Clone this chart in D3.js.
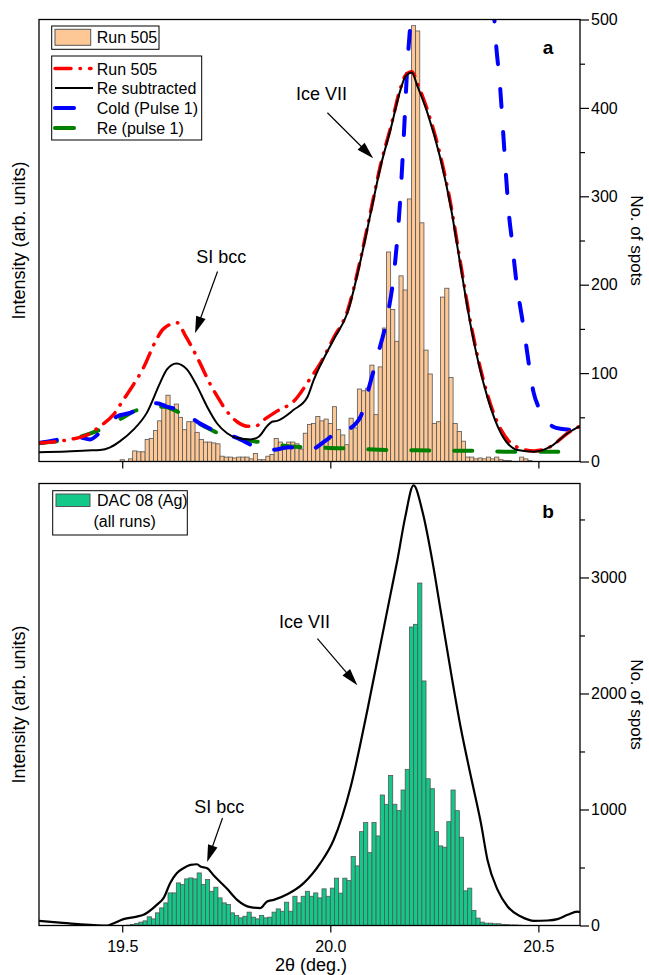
<!DOCTYPE html>
<html><head><meta charset="utf-8">
<script src="https://cdn.jsdelivr.net/npm/d3@7"></script>
<style>
body{margin:0;background:#fff}
text{font-family:"Liberation Sans",Arial,Helvetica,sans-serif;fill:#000}
</style>
</head><body>
<svg id="c" width="649" height="975"></svg>
<script>
// ---------- DATA ----------
const xTicks = [19.5, 20.0, 20.5];
const xTickLabels = ["19.5", "20.0", "20.5"];
const spotTicksA = [0, 100, 200, 300, 400, 500];
const spotMinorA = [50, 150, 250, 350, 450];
const spotTicksB = [0, 1000, 2000, 3000];
const spotMinorB = [500, 1500, 2500, 3500];

// Panel a histogram: Run 505 (bins of 0.01 deg, first bin centred at 19.50)
const runBinStart = 19.495;
const binWidth = 0.01;
const runCounts = [2,0,3,12,11,11,25,26,35,46,65,75,58,65,50,36,45,45,33,25,
  22,22,21,20,6,5,5,4,5,5,5,3,9,2,2,6,8,26,22,16,
  22,22,20,14,32,42,43,51,46,48,43,62,36,30,19,49,38,82,80,83,
  109,53,107,151,237,172,136,210,194,297,493,487,270,126,99,43,45,186,196,95,
  43,34,23,5,5,3,4,3,5,3,5,2,1,1,0,0,5,3,1];

// Panel b histogram: DAC 08 (Ag), all runs (bins of 0.01 deg, first bin from 19.50)
const dacBinStart = 19.50;
const dacCounts = [0,3,9,17,29,40,75,57,109,152,195,281,281,367,353,402,410,402,453,353,
  396,295,330,238,195,181,109,86,66,80,115,72,57,86,66,72,115,143,123,201,
  123,252,195,252,295,252,281,238,316,252,322,408,279,408,387,594,514,809,887,628,
  887,772,1125,1045,1294,1045,990,1168,1346,2573,2596,2952,2108,1265,1179,809,686,675,895,1168,
  990,761,299,322,129,64,29,20,20,15,15,10,8,5,5,3];

// Panel a curves: [2theta, intensity (arb. units)]
const run505Curve = [[19.300,21],[19.375,25],[19.415,30],[19.447,40],[19.479,53],[19.503,70],[19.527,87],
  [19.551,106],[19.579,135],[19.599,150],[19.632,157],[19.651,143],[19.683,115],[19.712,87],[19.728,74],
  [19.748,59],[19.776,45],[19.800,40],[19.820,40],[19.840,47],[19.872,57],[19.912,68],[19.952,94],
  [19.976,111],[20.008,140],[20.041,170],[20.073,230],[20.097,283],[20.121,336],[20.145,378],[20.169,423],
  [20.181,437],[20.196,441],[20.209,428],[20.233,398],[20.265,345],[20.289,292],[20.313,224],[20.338,155],
  [20.378,75],[20.410,36],[20.450,16],[20.490,12],[20.530,17],[20.570,32],[20.600,40]];
const reSubtracted = [[19.300,10.6],[19.367,11.3],[19.415,12.5],[19.447,13],[19.471,16],[19.495,23],[19.527,36],
  [19.559,55],[19.591,89],[19.607,104],[19.630,111],[19.656,104],[19.680,85],[19.704,62],[19.728,43],
  [19.752,32],[19.776,26.5],[19.808,25],[19.828,28],[19.848,40],[19.860,45],[19.872,46],[19.912,58.5],
  [19.944,72],[19.960,92],[20.008,138],[20.041,168],[20.073,228],[20.097,281],[20.121,334],[20.145,376],
  [20.169,421],[20.181,436],[20.196,440],[20.209,425],[20.233,395],[20.265,342],[20.289,289],[20.313,221],
  [20.338,152],[20.378,72],[20.410,32],[20.450,13],[20.490,11],[20.530,17],[20.570,32],[20.600,40]];
const coldPulse1 = [[19.300,21],[19.326,23],[19.343,24.5],[19.391,28],[19.423,25],[19.447,33],[19.471,43],
  [19.487,51],[19.519,55],[19.551,62],[19.583,66],[19.607,62],[19.647,57],[19.680,45],[19.712,37],
  [19.744,30],[19.768,28],[19.824,16],[19.856,13],[19.904,16],[19.944,12],[19.993,25],[20.008,30],
  [20.025,28],[20.033,32],[20.073,51],[20.089,77],[20.113,119],[20.137,164],[20.153,213],[20.169,304],
  [20.177,372],[20.185,447],[20.193,500],[20.210,640],[20.250,800],[20.300,850],[20.350,760],[20.380,620],
  [20.398,474],[20.408,424],[20.415,375],[20.422,325],[20.430,276],[20.436,252],[20.442,225],[20.448,200],
  [20.456,176],[20.464,153],[20.472,127],[20.479,104],[20.488,79],[20.502,60],[20.518,47],[20.537,39],
  [20.554,37],[20.573,36],[20.600,31]];
const rePulse1 = [[19.300,21],[19.343,23],[19.399,28],[19.447,36],[19.499,49],[19.535,58],[19.599,62],
  [19.639,55],[19.696,40],[19.736,31],[19.784,25],[19.840,21.5],[19.904,17],[19.944,16],[20.032,15],
  [20.138,13],[20.244,12.5],[20.352,12],[20.455,11],[20.564,11],[20.600,11]];

// Panel b curve: [2theta, intensity (arb. units)]
const dacCurve = [[19.300,40],[19.350,25],[19.400,10],[19.440,2],[19.465,0],[19.480,20],[19.503,55],
  [19.535,77],[19.551,92],[19.583,178],[19.600,240],[19.615,365],[19.631,451],[19.647,494],[19.664,522],
  [19.680,528],[19.688,508],[19.704,494],[19.720,430],[19.752,316],[19.776,221],[19.808,158],[19.832,150],
  [19.848,207],[19.864,221],[19.899,273],[19.936,365],[19.976,537],[20.008,737],[20.049,1196],[20.089,1856],
  [20.121,2430],[20.145,2861],[20.161,3147],[20.180,3520],[20.200,3793],[20.222,3560],[20.245,3147],
  [20.265,2717],[20.289,2201],[20.313,1713],[20.338,1282],[20.362,881],[20.378,560],[20.402,307],
  [20.426,164],[20.458,77],[20.490,40],[20.522,43],[20.546,55],[20.570,92],[20.594,120],[20.600,115]];

// ---------- DRAWING ----------
const svg = d3.select("#c");
const L = 39, R = 580;
const x = d3.scaleLinear().domain([19.3, 20.6]).range([L, R]);

const panels = [
  {top: 19.5, bottom: 461.5, max: 500, ticks: spotTicksA, minor: spotMinorA, label: "a", showX: false},
  {top: 483.5, bottom: 925.5, max: 3810, ticks: spotTicksB, minor: spotMinorB, label: "b", showX: true}
];
panels.forEach(p => {
  p.y = d3.scaleLinear().domain([0, p.max]).range([p.bottom, p.top]);     // No. of spots
  p.yI = d3.scaleLinear().domain([0, p.max]).range([p.bottom, p.top]);    // Intensity (arb. units)
});

const defs = svg.append("defs");
panels.forEach((p, i) => {
  defs.append("clipPath").attr("id", "clip" + i).append("rect")
    .attr("x", L).attr("y", p.top).attr("width", R - L).attr("height", p.bottom - p.top);
});

function drawBars(g, p, start, counts, fill) {
  g.selectAll(null).data(counts).enter().append("rect")
    .attr("x", (d, i) => x(start + i * binWidth))
    .attr("width", (d, i) => x(start + (i + 1) * binWidth) - x(start + i * binWidth))
    .attr("y", d => p.y(d))
    .attr("height", d => p.bottom - p.y(d))
    .attr("fill", fill).attr("stroke", "#555").attr("stroke-width", 0.8);
}
function drawCurve(g, p, data, color, width, dash) {
  const line = d3.line().x(d => x(d[0])).y(d => p.yI(d[1])).curve(d3.curveMonotoneX);
  const path = g.append("path").datum(data).attr("d", line)
    .attr("fill", "none").attr("stroke", color).attr("stroke-width", width)
    .attr("stroke-linejoin", "round");
  if (dash) path.attr("stroke-dasharray", dash).attr("stroke-linecap", "round");
}
function arrow(p, from, to, text, tpos) {
  const x1 = x(from[0]), y1 = p.yI(from[1]), x2 = x(to[0]), y2 = p.yI(to[1]);
  const dx = x2 - x1, dy = y2 - y1, len = Math.hypot(dx, dy), ux = dx / len, uy = dy / len;
  const hl = 17, hw = 5;
  const bx = x2 - ux * hl, by = y2 - uy * hl;
  svg.append("line").attr("x1", x1).attr("y1", y1).attr("x2", bx + ux * 2).attr("y2", by + uy * 2)
    .attr("stroke", "#000").attr("stroke-width", 1.2);
  svg.append("path").attr("d", `M${x2},${y2}L${bx - uy * hw},${by + ux * hw}L${bx + uy * hw},${by - ux * hw}Z`)
    .attr("fill", "#000");
  svg.append("text").attr("x", x(tpos[0])).attr("y", p.yI(tpos[1])).attr("text-anchor", "middle")
    .attr("font-size", 18).text(text);
}

// Panel a
const pa = panels[0];
const ga = svg.append("g").attr("clip-path", "url(#clip0)");
drawBars(ga, pa, runBinStart, runCounts, "#FDC896");
drawCurve(ga, pa, rePulse1, "#008000", 4, "18,25");
drawCurve(ga, pa, coldPulse1, "#0000FF", 4, "18,25");
drawCurve(ga, pa, run505Curve, "#FF0000", 3.5, "16,9,0.5,9");
drawCurve(ga, pa, reSubtracted, "#000", 2);

// Panel b
const pb = panels[1];
const gb = svg.append("g").attr("clip-path", "url(#clip1)");
drawBars(gb, pb, dacBinStart, dacCounts, "#12C98A");
drawCurve(gb, pb, dacCurve, "#000", 2.2);

// Axes and frames
panels.forEach(p => {
  svg.append("rect").attr("x", L).attr("y", p.top).attr("width", R - L).attr("height", p.bottom - p.top)
    .attr("fill", "none").attr("stroke", "#000").attr("stroke-width", 1.3);
  const ax = svg.append("g").attr("transform", `translate(0,${p.bottom})`)
    .call(d3.axisBottom(x).tickValues(xTicks).tickSize(7).tickPadding(8)
      .tickFormat((d, i) => p.showX ? xTickLabels[i] : ""));
  const ar = svg.append("g").attr("transform", `translate(${R},0)`)
    .call(d3.axisRight(p.y).tickValues(p.ticks).tickSize(9).tickPadding(2).tickFormat(d3.format("d")));
  const am = svg.append("g").attr("transform", `translate(${R},0)`)
    .call(d3.axisRight(p.y).tickValues(p.minor).tickSize(5).tickFormat(""));
  [ax, ar, am].forEach(a => {
    a.select(".domain").remove();
    a.selectAll("line").attr("stroke", "#000").attr("stroke-width", 1.2);
    a.selectAll("text").attr("font-size", 16).attr("font-family", '"Liberation Sans",Arial,sans-serif').attr("fill", "#000");
  });
  const cy = (p.top + p.bottom) / 2;
  svg.append("text").attr("transform", `translate(25,${cy}) rotate(-90)`).attr("text-anchor", "middle")
    .attr("font-size", 18).text("Intensity (arb. units)");
  svg.append("text").attr("transform", `translate(631,${cy}) rotate(90)`).attr("text-anchor", "middle")
    .attr("font-size", 17).text("No. of spots");
  svg.append("text").attr("x", 548).attr("y", p.top + 34).attr("text-anchor", "middle")
    .attr("font-size", 19).attr("font-weight", "bold").text(p.label);
});

svg.append("text").attr("x", 311).attr("y", 971).attr("text-anchor", "middle").attr("font-size", 18).text("2θ (deg.)");

// Annotations
arrow(pa, [19.993, 394.5], [20.103, 343], "Ice VII", [19.979, 409]);
arrow(pa, [19.729, 215], [19.675, 145], "SI bcc", [19.738, 225]);
arrow(pb, [19.969, 2473], [20.065, 2071], "Ice VII", [19.938, 2562]);
arrow(pb, [19.741, 927], [19.704, 548], "SI bcc", [19.733, 970]);

// Legends panel a
const lg = svg.append("g");
lg.append("rect").attr("x", 51.7).attr("y", 26).attr("width", 107.3).attr("height", 23.3)
  .attr("fill", "#fff").attr("stroke", "#000").attr("stroke-width", 1);
lg.append("rect").attr("x", 55).attr("y", 29.3).attr("width", 35.7).attr("height", 16)
  .attr("fill", "#FDC896").attr("stroke", "#555").attr("stroke-width", 1);
lg.append("text").attr("x", 96.7).attr("y", 42.7).attr("font-size", 16).text("Run 505");

lg.append("rect").attr("x", 51.7).attr("y", 56).attr("width", 150).attr("height", 84)
  .attr("fill", "#fff").attr("stroke", "#000").attr("stroke-width", 1);
const legItems = [
  {t: "Run 505", c: "#FF0000", w: 3.5, d: "16,9,0.5,9", y: 68.5, len: 36},
  {t: "Re subtracted", c: "#000", w: 2, d: null, y: 88, len: 38},
  {t: "Cold (Pulse 1)", c: "#0000FF", w: 4, d: null, y: 108, len: 19},
  {t: "Re (pulse 1)", c: "#008000", w: 4, d: null, y: 128, len: 19}
];
legItems.forEach(it => {
  const ln = lg.append("line").attr("x1", 55).attr("x2", 55 + it.len).attr("y1", it.y).attr("y2", it.y)
    .attr("stroke", it.c).attr("stroke-width", it.w).attr("stroke-linecap", it.d ? "round" : (it.c === "#000" ? "butt" : "round"));
  if (it.d) ln.attr("stroke-dasharray", it.d);
  lg.append("text").attr("x", 96.7).attr("y", it.y + 6).attr("font-size", 16).text(it.t);
});

// Legend panel b
lg.append("rect").attr("x", 52.7).attr("y", 490.7).attr("width", 134.6).attr("height", 44.3)
  .attr("fill", "#fff").attr("stroke", "#000").attr("stroke-width", 1);
lg.append("rect").attr("x", 56).attr("y", 494).attr("width", 34).attr("height", 12.5)
  .attr("fill", "#12C98A").attr("stroke", "#555").attr("stroke-width", 1);
lg.append("text").attr("x", 97).attr("y", 506).attr("font-size", 16).text("DAC 08 (Ag)");
lg.append("text").attr("x", 93.5).attr("y", 527).attr("font-size", 16).text("(all runs)");
</script>
</body></html>
